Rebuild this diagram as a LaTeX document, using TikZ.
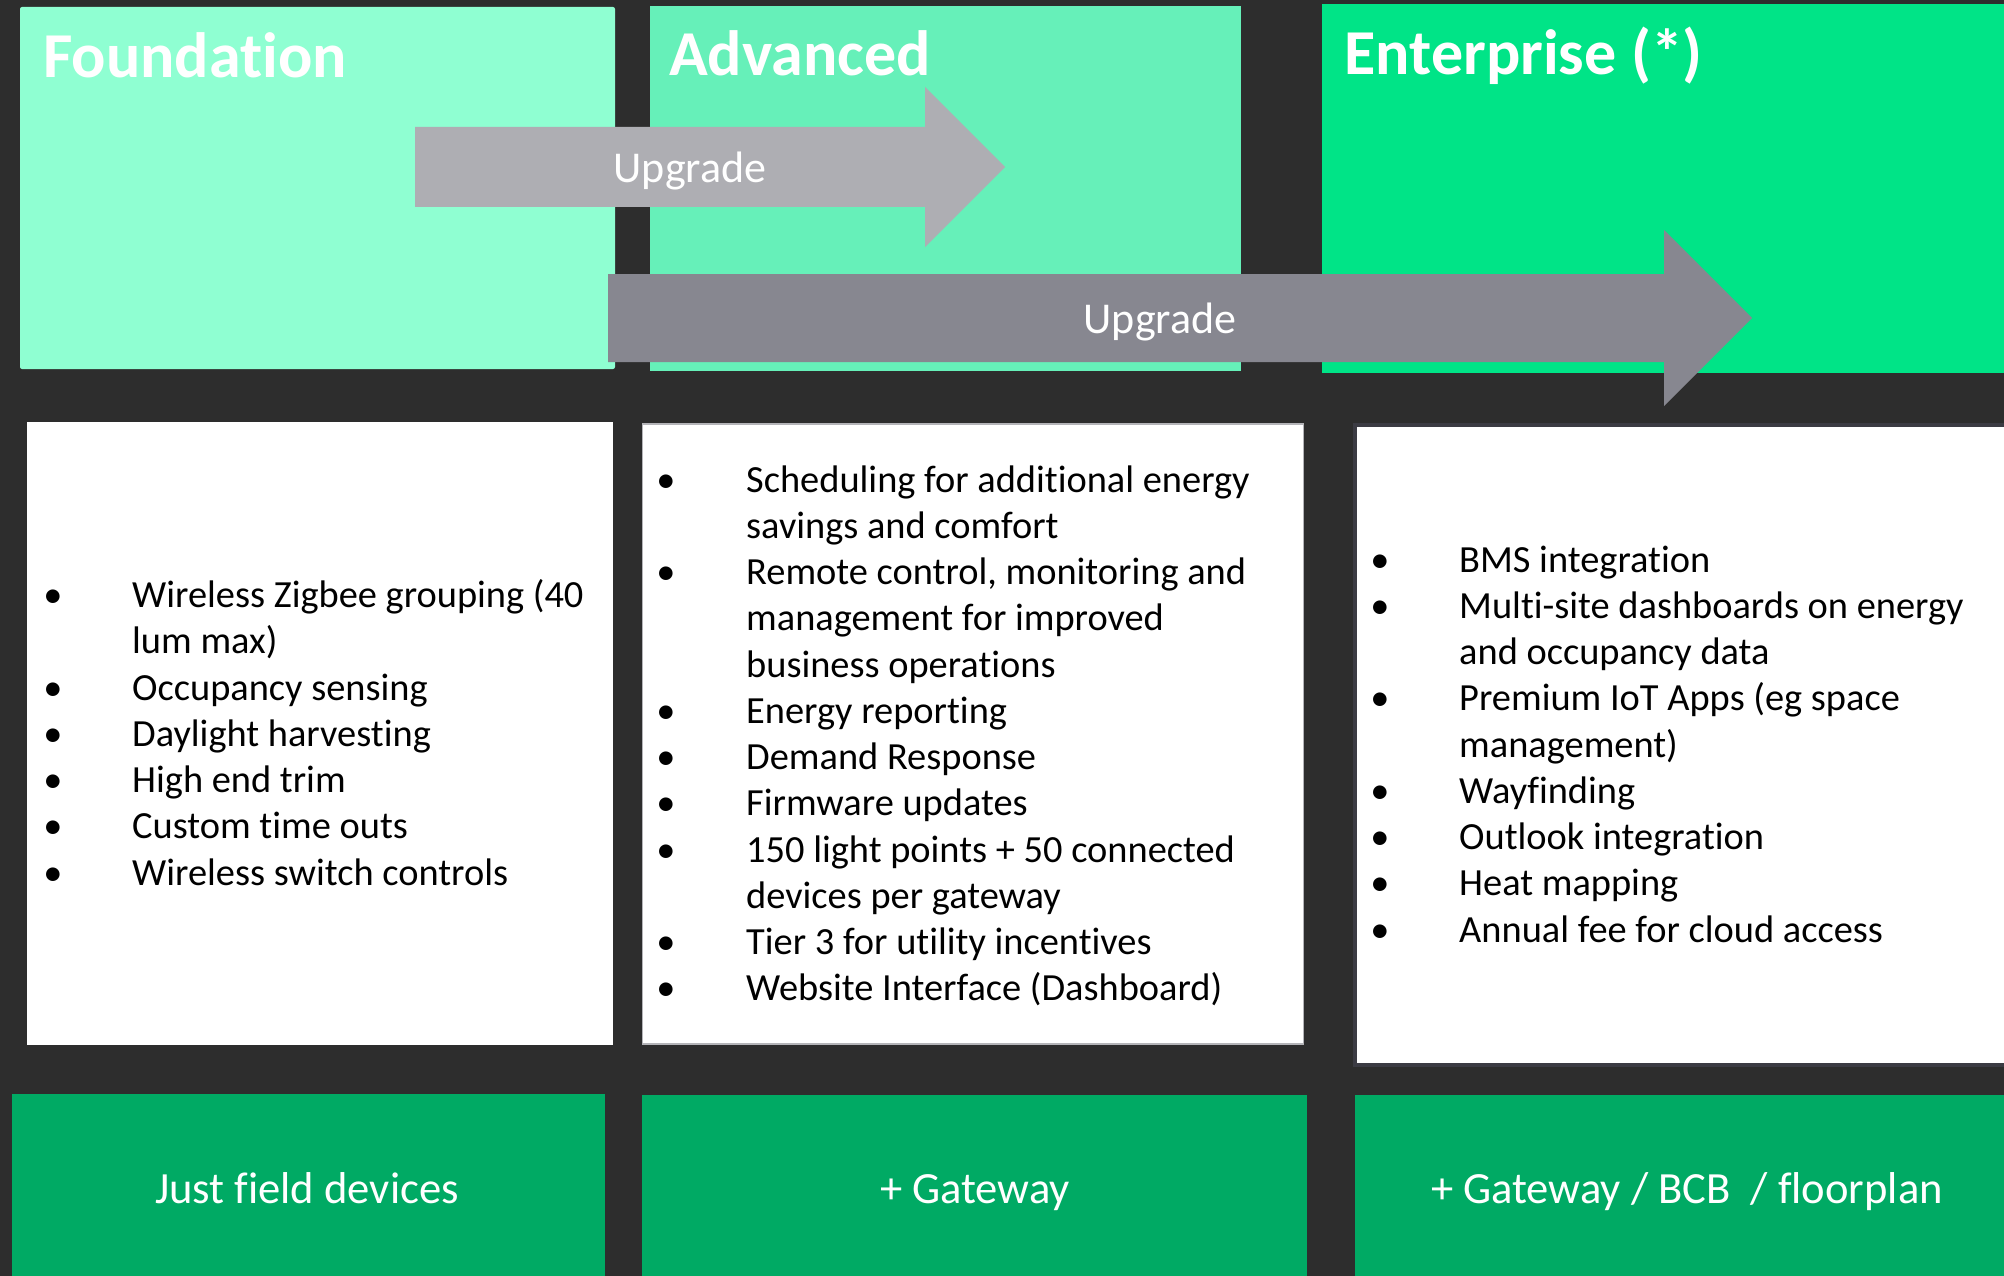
\documentclass[tikz,border=0pt]{standalone}
\usepackage{fontspec}
\setmainfont{Carlito}[Ligatures=NoCommon]
\definecolor{bgdark}{HTML}{2D2D2D}
\definecolor{tierA}{HTML}{8FFFD2}
\definecolor{tierB}{HTML}{66F0B9}
\definecolor{tierC}{HTML}{00E487}
\definecolor{baseGreen}{HTML}{00AA64}
\definecolor{arrowLight}{HTML}{AEAEB3}
\definecolor{arrowDark}{HTML}{878790}
\definecolor{edgeLight}{HTML}{B4B4B8}
\definecolor{edgeDark}{HTML}{3B3B43}

% one list of features: name, bullet x, text x, first baseline, items (bullet flag/text)
\newcommand\featlist[5]{%
  \foreach \b/\t [count=\n from 0] in {#5}{
    \pgfmathsetmacro\yy{#4+46.25*\n}
    \node[item] (#1-\n) at (#3,\yy) {\t};
    \ifnum\b=1 \node[item,anchor=base] (#1-b\n) at (#2,\yy) {\textbullet}; \fi
  }}

\begin{document}
\begin{tikzpicture}[x=1pt,y=-1pt,
  title/.style={anchor=base west,inner sep=0,text=white,
    font=\fontsize{64}{72}\selectfont\bfseries},
  upglabel/.style={anchor=base,inner sep=0,text=white,
    font=\fontsize{44}{50}\selectfont},
  baselabel/.style={anchor=base,inner sep=0,text=white,
    font=\fontsize{44.6}{50}\selectfont},
  item/.style={anchor=base west,inner sep=0,text=black,
    font=\fontsize{38.4}{46}\selectfont}]

% canvas
\fill[bgdark] (0,0) rectangle (2004,1276);
\useasboundingbox (0,0) rectangle (2004,1276);

% tier header panels
\fill[tierA,rounded corners=2] (20,7) rectangle (615,369);
\fill[tierB] (649.5,6) rectangle (1241,371);
\fill[tierC] (1322,4) rectangle (2010,373);

\node[title] (ttl-f) at (43,78) {Foundation};
\node[title] (ttl-a) at (669,76) {Advanced};
\node[title] (ttl-e) at (1344.5,75) {Enterprise (*)};

% upgrade arrows
\fill[arrowLight] (415,127) -- (925,127) -- (925,87) -- (1005,167)
  -- (925,247) -- (925,207) -- (415,207) -- cycle;
\node[upglabel] (upg-1) at (690,183) {Upgrade};

\fill[arrowDark] (608,274) -- (1664,274) -- (1664,230) -- (1752,318)
  -- (1664,406) -- (1664,362) -- (608,362) -- cycle;
\node[upglabel] (upg-2) at (1160,333) {Upgrade};

% feature panels
\fill[white] (26.5,422) rectangle (613,1045);
\filldraw[fill=white,draw=edgeLight,line width=1.5] (642.5,424) rectangle (1303.5,1044);
\filldraw[fill=white,draw=edgeDark,line width=4] (1355,425) rectangle (2012,1065);

\featlist{fnd}{53}{132}{607.5}{1/{Wireless Zigbee grouping (40},0/{lum max)},
  1/{Occupancy sensing},1/{Daylight harvesting},1/{High end trim},
  1/{Custom time outs},1/{Wireless switch controls}}

\featlist{adv}{666}{746}{492}{1/{Scheduling for additional energy},
  0/{savings and comfort},1/{Remote control, monitoring and},
  0/{management for improved},0/{business operations},1/{Energy reporting},
  1/{Demand Response},1/{Firmware updates},1/{150 light points + 50 connected},
  0/{devices per gateway},1/{Tier 3 for utility incentives},
  1/{Website Interface (Dashboard)}}

\featlist{ent}{1380}{1459}{572}{1/{BMS integration},
  1/{Multi-site dashboards on energy},0/{and occupancy data},
  1/{Premium IoT Apps (eg space},0/{management)},1/{Wayfinding},
  1/{Outlook integration},1/{Heat mapping},1/{Annual fee for cloud access}}

% platform footers
\fill[baseGreen] (11.5,1094) rectangle (605,1290);
\fill[baseGreen] (642,1095) rectangle (1307,1290);
\fill[baseGreen] (1355,1095) rectangle (2010,1290);

\node[baselabel] (ft-f) at (307,1203) {Just field devices};
\node[baselabel] (ft-a) at (975,1203) {+ Gateway};
\node[baselabel] (ft-e) at (1687,1203) {+ Gateway / BCB\ \ / floorplan};
\end{tikzpicture}
\end{document}
